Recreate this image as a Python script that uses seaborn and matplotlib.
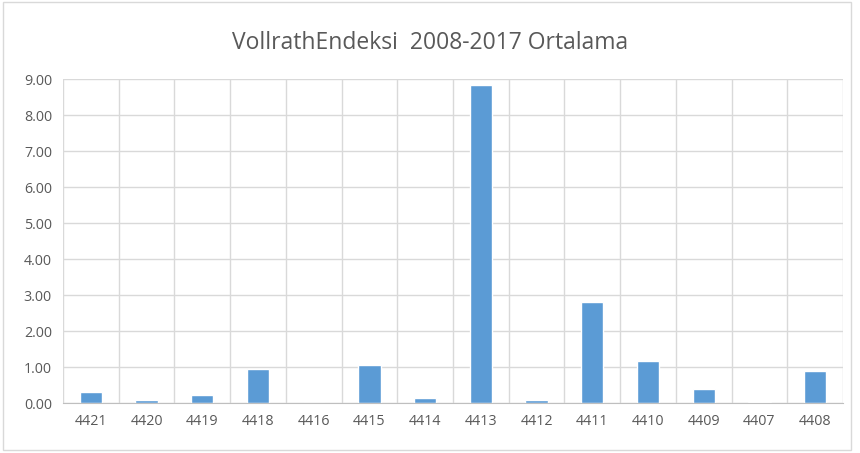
import matplotlib
matplotlib.use("Agg")
import matplotlib.pyplot as plt
import seaborn as sns
import pandas as pd
from matplotlib.patches import Rectangle

# Data
codes = ["4421", "4420", "4419", "4418", "4416", "4415", "4414",
         "4413", "4412", "4411", "4410", "4409", "4407", "4408"]
values = [0.31, 0.08, 0.23, 0.94, 0.0, 1.07, 0.15,
          8.83, 0.09, 2.82, 1.16, 0.38, 0.04, 0.88]
yticks = [0, 1, 2, 3, 4, 5, 6, 7, 8, 9]

df = pd.DataFrame({"code": codes, "value": values})

sns.set_style("white")
plt.rcParams["font.family"] = ["Open Sans", "DejaVu Sans"]

fig = plt.figure(figsize=(8.6, 4.53), dpi=100)
ax = fig.add_axes([0.0733, 0.110, 0.9070, 0.7152])

sns.barplot(data=df, x="code", y="value", order=codes, color="#5B9BD5",
            saturation=1, width=0.4, ax=ax)

ax.set_ylim(0, 9)
ax.set_xlim(-0.5, len(codes) - 0.5)
ax.set_yticks(yticks)
ax.set_yticklabels([f"{v:.2f}" for v in yticks])
ax.set_xticks(range(len(codes)))
ax.set_xticks([i - 0.5 for i in range(len(codes) + 1)], minor=True)

ax.grid(axis="y", which="major", color="#D9D9D9", linewidth=1)
ax.grid(axis="x", which="minor", color="#D9D9D9", linewidth=1)
ax.set_axisbelow(True)
for s in ["top", "right", "left"]:
    ax.spines[s].set_visible(False)
ax.spines["bottom"].set_color("#BFBFBF")
ax.tick_params(axis="both", which="both", length=0, labelsize=10.3,
               colors="#595959", pad=8)
ax.set_xlabel("")
ax.set_ylabel("")

fig.text(0.5, 0.905, "VollrathEndeksi  2008-2017 Ortalama", ha="center",
         va="center", fontsize=16.5, color="#595959")

fig.patches.append(Rectangle((0.004, 0.006), 0.985, 0.99, transform=fig.transFigure,
                             fill=False, edgecolor="#D9D9D9", linewidth=1))

fig.savefig("out.png", dpi=100)
